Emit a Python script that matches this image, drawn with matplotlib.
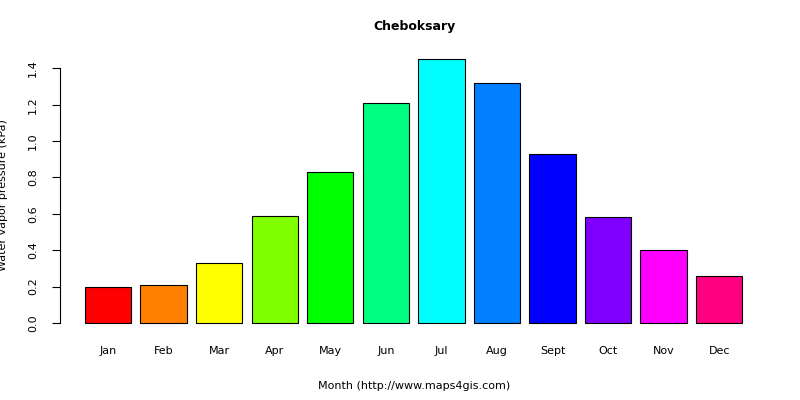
import matplotlib
matplotlib.use("Agg")
import matplotlib.pyplot as plt

months = ["Jan","Feb","Mar","Apr","May","Jun","Jul","Aug","Sept","Oct","Nov","Dec"]
values = [0.20,0.21,0.33,0.59,0.83,1.21,1.45,1.32,0.93,0.58,0.40,0.26]
colors = ["#FF0000","#FF8000","#FFFF00","#80FF00","#00FF00","#00FF80",
          "#00FFFF","#0080FF","#0000FF","#8000FF","#FF00FF","#FF0080"]
yticks = [0.0,0.2,0.4,0.6,0.8,1.0,1.2,1.4]

fig = plt.figure(figsize=(8,4), dpi=100)
ax = fig.add_axes([60/800, 65/400, 708/800, 280/400])
xs = [0.7 + 1.2*i for i in range(len(months))]
ax.bar(xs, values, width=1.0, color=colors, edgecolor="black", linewidth=0.8)
ax.set_xlim(-0.337, 14.955)
ax.set_ylim(-0.066, 1.473)
for s in ["top","right","bottom"]:
    ax.spines[s].set_visible(False)
ax.spines["left"].set_bounds(0, 1.4)
ax.set_yticks(yticks)
ax.set_yticklabels([f"{v:.1f}" for v in yticks], rotation=90, va="center", fontsize=8)
ax.tick_params(axis="y", pad=10, length=6)
ax.set_xticks(xs)
ax.set_xticklabels(months, fontsize=8)
ax.tick_params(axis="x", length=0, pad=8)
ax.set_xlabel("Month (http://www.maps4gis.com)", fontsize=8, labelpad=18)
ax.set_ylabel("Water vapor pressure (kPa)", fontsize=8, labelpad=14)
ax.set_title("Cheboksary", fontsize=9, fontweight="bold", pad=18)
fig.savefig("out.png")
